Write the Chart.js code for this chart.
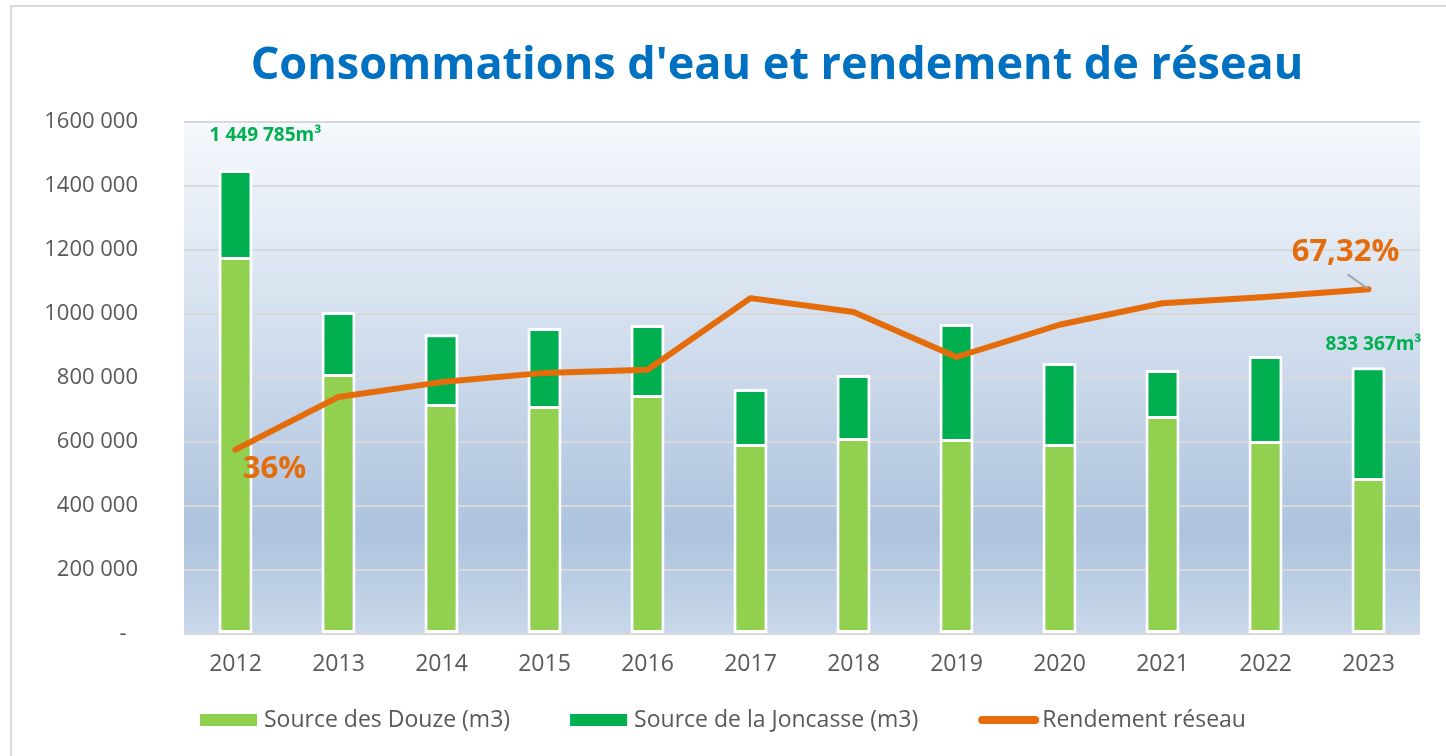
<!DOCTYPE html>
<html>
<head>
<meta charset="utf-8">
<script src="https://cdn.jsdelivr.net/npm/chart.js@4.4.1/dist/chart.umd.min.js"></script>
<style>
  html, body { margin: 0; padding: 0; background: #ffffff; }
  #wrap { position: relative; width: 1446px; height: 756px; overflow: hidden; }
  #frame { position: absolute; left: 10px; top: 5px; width: 1500px; height: 800px; border: 2px solid #d9d9d9; box-sizing: border-box; }
  canvas { position: absolute; left: 0; top: 0; }
</style>
</head>
<body>
<div id="wrap">
  <div id="frame"></div>
  <canvas id="chart" width="1446" height="756"></canvas>
</div>
<script>
// Chart data
const years = ['2012', '2013', '2014', '2015', '2016', '2017', '2018', '2019', '2020', '2021', '2022', '2023'];
const sourceDouze = [1175000, 809000, 716000, 709000, 744000, 591000, 609000, 606000, 591000, 678000, 600000, 484000];
const sourceJoncasse = [274785, 197000, 221000, 247000, 222000, 175000, 200000, 363000, 256000, 147000, 269000, 349367];
const rendement = [36, 46.3, 49.2, 51.0, 51.6, 65.6, 62.9, 54.1, 60.4, 64.6, 65.8, 67.32];
const yTicks = [0, 200000, 400000, 600000, 800000, 1000000, 1200000, 1400000, 1600000];

// Annotated points
const totalLabelIdx = [0, 11];
const totalLabels = ['1 449 785m\u00b3', '833 367m\u00b3'];
const rendLabelIdx = [0, 11];
const rendLabels = ['36%', '67,32%'];

const TITLE = "Consommations d'eau et rendement de réseau";
const FONT = "'Open Sans', 'Noto Sans', sans-serif";

// Plot area gradient background
const plotBackground = {
  id: 'plotBackground',
  beforeDraw(chart) {
    const { ctx, chartArea: a } = chart;
    const g = ctx.createLinearGradient(0, a.top, 0, a.bottom);
    g.addColorStop(0, '#f5f8fc');
    g.addColorStop(0.45, '#cfdcec');
    g.addColorStop(0.8, '#adc3de');
    g.addColorStop(1, '#c9d8ea');
    ctx.save();
    ctx.fillStyle = g;
    ctx.fillRect(a.left, a.top, a.right - a.left, a.bottom - a.top);
    ctx.restore();
  }
};

// Title, value labels and legend
const annotations = {
  id: 'annotations',
  afterDraw(chart) {
    const { ctx } = chart;
    const x = chart.scales.x;
    const y = chart.scales.y;
    const y2 = chart.scales.y2;
    ctx.save();

    // Title
    ctx.fillStyle = '#0070c0';
    ctx.font = `bold 45px ${FONT}`;
    ctx.textAlign = 'center';
    ctx.textBaseline = 'middle';
    ctx.fillText(TITLE, 777, 66);

    // Totals above bars
    ctx.fillStyle = '#00b050';
    ctx.font = `bold 19px ${FONT}`;
    totalLabelIdx.forEach((i, k) => {
      const total = sourceDouze[i] + sourceJoncasse[i];
      const px = x.getPixelForValue(i);
      const py = y.getPixelForValue(total);
      if (k === 0) ctx.fillText(totalLabels[k], px + 30, py - 34);
      else ctx.fillText(totalLabels[k], px + 5, py - 23);
    });

    // Rendement labels
    ctx.fillStyle = '#e46c0a';
    ctx.font = `bold 31px ${FONT}`;
    rendLabelIdx.forEach((i, k) => {
      const px = x.getPixelForValue(i);
      const py = y2.getPixelForValue(rendement[i]);
      if (k === 0) {
        ctx.fillText(rendLabels[k], px + 39, py + 19);
      } else {
        ctx.fillText(rendLabels[k], px - 23, py - 37);
        ctx.strokeStyle = '#a6a6a6';
        ctx.lineWidth = 2;
        ctx.beginPath();
        ctx.moveTo(px - 21, py - 15);
        ctx.lineTo(px - 1, py - 1);
        ctx.stroke();
      }
    });

    // Legend
    ctx.font = `23px ${FONT}`;
    ctx.textAlign = 'left';
    let lx = 200;
    const ly = 720;
    chart.data.datasets.forEach((d) => {
      ctx.fillStyle = d.backgroundColor;
      if (d.type === 'line') {
        ctx.strokeStyle = d.borderColor;
        ctx.lineWidth = 8;
        ctx.lineCap = 'round';
        ctx.beginPath();
        ctx.moveTo(lx + 4, ly);
        ctx.lineTo(lx + 57, ly);
        ctx.stroke();
      } else {
        ctx.fillRect(lx, ly - 6, 57, 12);
      }
      ctx.fillStyle = '#595959';
      ctx.fillText(d.label, lx + 64, ly);
      lx += 64 + ctx.measureText(d.label).width + 60;
    });
    ctx.restore();
  }
};

const ctx = document.getElementById('chart').getContext('2d');
new Chart(ctx, {
  data: {
    labels: years,
    datasets: [
      {
        type: 'bar',
        label: 'Source des Douze (m3)',
        data: sourceDouze,
        backgroundColor: '#92d050',
        borderColor: '#ffffff',
        borderWidth: { top: 2, left: 3, right: 3, bottom: 3 },
        borderSkipped: false,
        barPercentage: 0.33,
        categoryPercentage: 1,
        order: 1
      },
      {
        type: 'bar',
        label: 'Source de la Joncasse (m3)',
        data: sourceJoncasse,
        backgroundColor: '#00b050',
        borderColor: '#ffffff',
        borderWidth: { top: 3, left: 3, right: 3, bottom: 1 },
        borderSkipped: false,
        barPercentage: 0.33,
        categoryPercentage: 1,
        order: 1
      },
      {
        type: 'line',
        label: 'Rendement réseau',
        data: rendement,
        yAxisID: 'y2',
        borderColor: '#e46c0a',
        backgroundColor: '#e46c0a',
        borderWidth: 6,
        borderCapStyle: 'round',
        borderJoinStyle: 'round',
        pointRadius: 0,
        tension: 0,
        order: 0
      }
    ]
  },
  options: {
    responsive: false,
    animation: false,
    layout: { padding: { left: 10, right: 26, top: 122, bottom: 62 } },
    scales: {
      x: {
        stacked: true,
        grid: { display: false, drawTicks: false },
        border: { display: false },
        afterFit: (scale) => { scale.height = 60; },
        ticks: { color: '#595959', font: { family: FONT, size: 23 }, padding: 17 }
      },
      y: {
        stacked: true,
        min: 0,
        max: 1600000,
        afterBuildTicks: (scale) => { scale.ticks = yTicks.map(v => ({ value: v })); },
        afterFit: (scale) => { scale.width = 174; },
        grid: { color: '#d9d9d9', lineWidth: 2, drawTicks: false },
        border: { display: false },
        ticks: {
          color: '#595959',
          font: { family: FONT, size: 22 },
          padding: 46,
          callback: (v) => v === 0 ? '-  ' : Math.floor(v / 1000) + ' 000'
        }
      },
      y2: {
        position: 'right',
        display: false,
        min: 0,
        max: 100
      }
    },
    plugins: {
      title: { display: false },
      legend: { display: false },
      tooltip: { enabled: false }
    }
  },
  plugins: [plotBackground, annotations]
});
</script>
</body>
</html>
